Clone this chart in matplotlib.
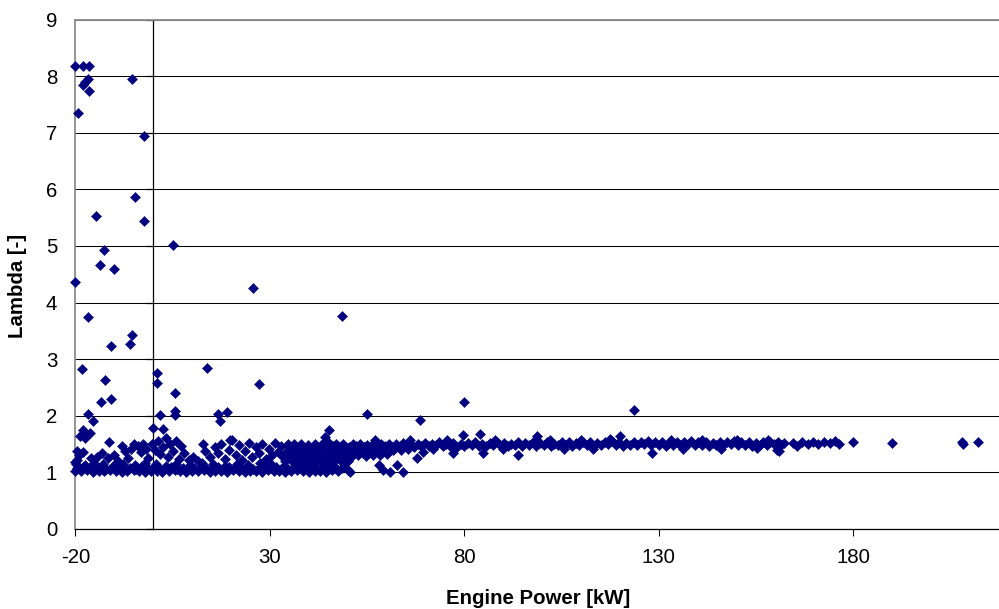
import numpy as np
import matplotlib
matplotlib.use("Agg")
import matplotlib.pyplot as plt

plt.rcParams["font.family"] = ["Liberation Sans", "DejaVu Sans"]
plt.rcParams["axes.unicode_minus"] = False

# (engine power kW, lambda) readings, grouped by where they sit on the chart
outliers = [
    (-20.0, 8.17), (-17.9, 8.17), (-16.5, 8.17), (-16.8, 7.95), (-17.5, 7.89),
    (-18.1, 7.84), (-16.5, 7.73), (-19.3, 7.34), (-5.3, 7.95), (-2.4, 6.94),
    (-4.6, 5.87), (-14.8, 5.53), (-2.3, 5.44), (5.0, 5.02), (-12.6, 4.93),
    (-13.6, 4.66), (-10.1, 4.59), (-20.0, 4.37), (25.8, 4.25), (-16.7, 3.75),
    (48.6, 3.77), (-5.3, 3.43), (-5.9, 3.26), (-10.9, 3.24), (-18.3, 2.83),
    (-12.4, 2.64), (1.1, 2.76), (1.1, 2.58), (13.8, 2.85), (27.1, 2.56),
    (5.7, 2.40), (-13.4, 2.24), (-10.8, 2.29), (-16.8, 2.04), (-15.4, 1.91),
    (1.8, 2.01), (5.5, 2.09), (5.7, 2.01), (0.1, 1.79), (2.6, 1.76),
    (-17.9, 1.75), (-18.8, 1.64), (-16.2, 1.70), (-17.5, 1.60), (16.6, 2.03),
    (19.1, 2.06), (17.2, 1.90), (19.8, 1.58), (55.0, 2.03), (68.6, 1.93),
    (45.2, 1.74), (44.1, 1.62), (79.9, 2.24), (123.7, 2.10), (83.9, 1.68),
    (79.6, 1.66), (98.6, 1.65), (120.0, 1.64), (180.0, 1.54), (189.9, 1.52),
    (207.9, 1.54), (208.1, 1.50), (212.1, 1.54), (160.9, 1.38), (176.3, 1.51),
]

low_band = [
    (-20.0, 1.03), (-18.5, 1.02), (-17.0, 1.04), (-15.4, 1.01), (-14.0, 1.03),
    (-12.6, 1.02), (-11.0, 1.04), (-9.5, 1.03), (-8.0, 1.01), (-6.6, 1.03),
    (-5.0, 1.04), (-3.5, 1.02), (-2.0, 1.01), (-0.6, 1.03), (1.0, 1.02),
    (2.4, 1.01), (4.0, 1.03), (5.5, 1.04), (7.0, 1.02), (8.4, 1.01),
    (10.0, 1.03), (11.5, 1.02), (13.0, 1.04), (14.6, 1.01), (16.0, 1.02),
    (17.5, 1.03), (19.0, 1.01), (20.6, 1.04), (22.0, 1.02), (23.5, 1.01),
    (25.0, 1.03), (26.4, 1.02), (28.0, 1.01), (29.5, 1.04), (31.0, 1.02),
    (32.4, 1.03), (34.0, 1.01), (35.5, 1.02), (37.0, 1.04), (38.6, 1.03),
    (40.0, 1.01), (41.5, 1.02), (43.0, 1.03), (44.4, 1.01), (46.0, 1.04),
    (47.5, 1.02),
    (-19.6, 1.08), (-18.0, 1.10), (-16.4, 1.07), (-15.0, 1.09), (-13.5, 1.08),
    (-12.0, 1.06), (-10.4, 1.09), (-9.0, 1.10), (-7.4, 1.07), (-6.0, 1.08),
    (-4.4, 1.06), (-3.0, 1.09), (-1.4, 1.08), (0.2, 1.10), (1.6, 1.07),
    (3.2, 1.08), (4.6, 1.09), (6.2, 1.06), (7.6, 1.08), (9.2, 1.10),
    (10.6, 1.07), (12.2, 1.09), (13.6, 1.08), (15.2, 1.06), (16.6, 1.09),
    (18.2, 1.08), (19.6, 1.10), (21.2, 1.07), (22.6, 1.08), (24.2, 1.09),
    (25.6, 1.06), (27.2, 1.08), (28.6, 1.10), (30.2, 1.07), (31.6, 1.09),
    (33.2, 1.08), (34.6, 1.06), (36.2, 1.09), (37.6, 1.08), (39.2, 1.10),
    (40.6, 1.07), (42.2, 1.08), (43.6, 1.09), (45.2, 1.06), (46.8, 1.08),
    (48.6, 1.07), (50.2, 1.05),
    (-19.8, 1.15), (-17.6, 1.13), (-15.2, 1.16), (-13.0, 1.14), (-10.2, 1.12),
    (-7.8, 1.15), (-4.6, 1.13), (-2.2, 1.16), (0.8, 1.14), (3.4, 1.12),
    (6.0, 1.15), (9.4, 1.13), (12.6, 1.16), (15.4, 1.14), (18.6, 1.12),
    (21.6, 1.15), (24.4, 1.13), (27.6, 1.16), (30.4, 1.14), (33.6, 1.12),
    (36.4, 1.15), (38.8, 1.13), (41.4, 1.16), (43.8, 1.14), (46.4, 1.12),
    (49.0, 1.15),
]

mid_scatter = [
    (-20.0, 1.18), (-19.5, 1.22), (-19.0, 1.30), (-18.0, 1.36), (-19.6, 1.38),
    (-16.0, 1.25), (-14.5, 1.28), (-13.2, 1.35), (-11.6, 1.25), (-11.3, 1.54),
    (-10.0, 1.30), (-9.0, 1.20), (-8.1, 1.47), (-7.2, 1.38), (-6.4, 1.26),
    (-5.6, 1.42), (-4.8, 1.50), (-4.0, 1.46), (-3.2, 1.36), (-2.6, 1.50),
    (-1.8, 1.42), (-1.2, 1.25), (-0.4, 1.50), (0.4, 1.40), (1.2, 1.56),
    (1.8, 1.32), (2.6, 1.45), (3.4, 1.60), (3.8, 1.28), (4.4, 1.50),
    (5.2, 1.38), (6.0, 1.55), (6.6, 1.24), (7.2, 1.46), (8.0, 1.34),
    (9.2, 1.22), (10.2, 1.28), (11.6, 1.20), (12.8, 1.50), (13.4, 1.38),
    (14.6, 1.28), (15.8, 1.45), (16.8, 1.34), (17.4, 1.50), (18.4, 1.24),
    (19.6, 1.40), (20.2, 1.58), (21.2, 1.30), (22.0, 1.48), (22.8, 1.22),
    (23.6, 1.38), (24.6, 1.52), (25.4, 1.28), (26.4, 1.44), (27.2, 1.34),
    (28.0, 1.50), (29.0, 1.24), (29.8, 1.42), (30.6, 1.30), (31.4, 1.52),
    (32.2, 1.36), (33.0, 1.46), (33.8, 1.26), (34.6, 1.50), (35.4, 1.38),
]

transition = [
    (34.0, 1.20), (35.6, 1.21), (37.2, 1.19), (38.8, 1.22), (40.4, 1.20),
    (42.0, 1.21), (43.6, 1.19), (45.2, 1.20), (46.8, 1.22), (48.4, 1.20),
    (50.0, 1.21),
    (33.4, 1.28), (35.0, 1.29), (36.6, 1.27), (38.2, 1.28), (39.8, 1.30),
    (41.4, 1.28), (43.0, 1.27), (44.6, 1.29), (46.2, 1.28), (47.8, 1.30),
    (49.4, 1.28), (51.0, 1.29),
    (34.2, 1.36), (35.8, 1.37), (37.4, 1.35), (39.0, 1.36), (40.6, 1.38),
    (42.2, 1.36), (43.8, 1.35), (45.4, 1.37), (47.0, 1.36), (48.6, 1.38),
    (50.2, 1.36), (51.8, 1.37),
    (35.0, 1.44), (36.6, 1.43), (38.2, 1.45), (39.8, 1.44), (41.4, 1.43),
    (43.0, 1.45), (44.6, 1.44), (46.2, 1.46), (47.8, 1.44), (49.4, 1.45),
    (51.0, 1.43), (52.6, 1.44), (54.2, 1.45),
    (36.2, 1.50), (38.0, 1.51), (39.8, 1.49), (41.6, 1.51), (43.4, 1.50),
    (45.2, 1.52), (47.0, 1.50), (48.8, 1.51),
    (50.8, 1.30), (52.6, 1.31), (54.6, 1.29), (56.4, 1.31), (58.4, 1.30),
    (60.2, 1.32),
    (51.6, 1.38), (53.6, 1.39), (55.6, 1.37), (57.6, 1.39), (59.6, 1.38),
    (61.6, 1.40), (63.6, 1.39), (65.6, 1.41),
]

main_band = [
    (50.4, 1.44), (52.2, 1.46), (54.1, 1.45), (56.0, 1.47), (57.8, 1.45),
    (59.7, 1.46), (61.5, 1.44), (63.4, 1.47), (65.2, 1.46), (67.1, 1.45),
    (68.9, 1.47), (70.8, 1.46), (72.6, 1.48), (74.5, 1.46), (76.3, 1.47),
    (78.2, 1.45), (80.0, 1.47), (81.9, 1.48), (83.7, 1.46), (85.6, 1.47),
    (87.4, 1.49), (89.3, 1.47), (91.1, 1.46), (93.0, 1.48), (94.8, 1.47),
    (96.7, 1.49), (98.5, 1.47), (100.4, 1.48), (102.2, 1.46), (104.1, 1.48),
    (105.9, 1.49), (107.8, 1.47), (109.6, 1.48), (111.5, 1.49), (113.3, 1.47),
    (115.2, 1.48), (117.0, 1.50), (118.9, 1.48), (120.7, 1.47), (122.6, 1.49),
    (124.4, 1.48), (126.3, 1.50), (128.1, 1.48), (130.0, 1.49), (131.8, 1.47),
    (133.7, 1.49), (135.5, 1.48), (137.4, 1.50), (139.2, 1.48), (141.1, 1.49),
    (142.9, 1.47), (144.8, 1.49), (146.6, 1.48), (148.5, 1.50), (150.3, 1.48),
    (152.2, 1.49), (154.0, 1.47), (155.9, 1.49), (157.7, 1.48), (159.6, 1.50),
    (161.4, 1.48),
    (51.3, 1.50), (53.1, 1.51), (55.0, 1.49), (56.9, 1.52), (58.7, 1.50),
    (60.6, 1.51), (62.4, 1.50), (64.3, 1.52), (66.1, 1.51), (68.0, 1.50),
    (69.8, 1.52), (71.7, 1.51), (73.5, 1.53), (75.4, 1.51), (77.2, 1.52),
    (79.1, 1.50), (80.9, 1.52), (82.8, 1.53), (84.6, 1.51), (86.5, 1.52),
    (88.3, 1.54), (90.2, 1.52), (92.0, 1.51), (93.9, 1.53), (95.7, 1.52),
    (97.6, 1.54), (99.4, 1.52), (101.3, 1.53), (103.1, 1.51), (105.0, 1.53),
    (106.8, 1.54), (108.7, 1.52), (110.5, 1.53), (112.4, 1.54), (114.2, 1.52),
    (116.1, 1.53), (117.9, 1.55), (119.8, 1.53), (121.6, 1.52), (123.5, 1.54),
    (125.3, 1.53), (127.2, 1.55), (129.0, 1.53), (130.9, 1.54), (132.7, 1.52),
    (134.6, 1.54), (136.4, 1.53), (138.3, 1.55), (140.1, 1.53), (142.0, 1.54),
    (143.8, 1.52), (145.7, 1.54), (147.5, 1.53), (149.4, 1.55), (151.2, 1.53),
    (153.1, 1.54), (154.9, 1.52), (156.8, 1.54), (158.6, 1.53), (160.5, 1.54),
    (162.2, 1.52),
    (164.6, 1.52), (165.5, 1.47), (166.8, 1.53), (168.3, 1.50), (169.6, 1.54),
    (171.0, 1.51), (172.4, 1.53), (173.9, 1.52), (175.2, 1.55),
    (57.0, 1.58), (66.0, 1.57), (75.5, 1.58), (88.0, 1.57), (102.0, 1.58),
    (110.0, 1.57), (117.5, 1.59), (133.0, 1.58), (141.0, 1.57), (150.0, 1.58),
    (158.0, 1.57),
    (62.0, 1.42), (72.0, 1.41), (90.0, 1.42), (105.5, 1.41), (113.0, 1.42),
    (146.0, 1.41),
]

stragglers = [
    (50.6, 1.01), (58.0, 1.13), (59.2, 1.05), (60.9, 1.01), (62.8, 1.13),
    (64.3, 1.01), (67.8, 1.25), (69.5, 1.36), (54.0, 1.34), (128.2, 1.35),
    (77.2, 1.34), (84.9, 1.34), (93.9, 1.30), (136.3, 1.42), (155.3, 1.43),
    (160.4, 1.40),
]

power_ticks = [-20, 30, 80, 130, 180]
lambda_ticks = list(range(10))
power_range = (-20, 220)
lambda_range = (0, 9)

points = np.array(outliers + low_band + mid_scatter + transition + main_band + stragglers)
power, lam = points[:, 0], points[:, 1]

W, H = 999, 609
fig = plt.figure(figsize=(W / 100, H / 100), dpi=100)
left_px, right_px, top_px, bottom_px = 75.3, 1009.0, 19.5, 529.0
ax = fig.add_axes([left_px / W, 1 - bottom_px / H,
                   (right_px - left_px) / W, (bottom_px - top_px) / H])

ax.plot(power, lam, linestyle="none", marker="D", ms=4.7,
        mfc="#000080", mec="#000080", mew=0.4, clip_on=False, zorder=3)

ax.set_xlim(*power_range)
ax.set_ylim(*lambda_range)
ax.set_xticks(power_ticks)
ax.set_yticks(lambda_ticks)
ax.yaxis.grid(True, color="black", linewidth=0.75)
ax.set_axisbelow(True)

ax.tick_params(axis="y", length=0, pad=13, labelsize=14.7)
ax.tick_params(axis="x", length=5, width=0.75, direction="out", pad=9,
               labelsize=14.7, color="black")

for side in ("left", "top"):
    ax.spines[side].set_color("#8c8c8c")
    ax.spines[side].set_linewidth(1.3)
ax.spines["right"].set_visible(False)
ax.spines["bottom"].set_color("black")
ax.spines["bottom"].set_linewidth(0.9)

# vertical axis crossing at zero power, ticks only
zero_pos = (0 - power_range[0]) / (power_range[1] - power_range[0])
sec = ax.secondary_yaxis(zero_pos)
sec.set_yticks(lambda_ticks)
sec.tick_params(length=5, width=0.9, direction="out", labelleft=False,
                labelright=False)
for sp in sec.spines.values():
    sp.set_linewidth(0.9)
    sp.set_color("black")

fig.text(538 / W, 1 - 598 / H, "Engine Power [kW]", ha="center", va="center",
         fontsize=14.7, fontweight="bold")
fig.text(18 / W, 1 - 286 / H, "Lambda [-]", ha="center", va="center",
         rotation=90, fontsize=14.7, fontweight="bold")

fig.savefig("out.png", dpi=100)
